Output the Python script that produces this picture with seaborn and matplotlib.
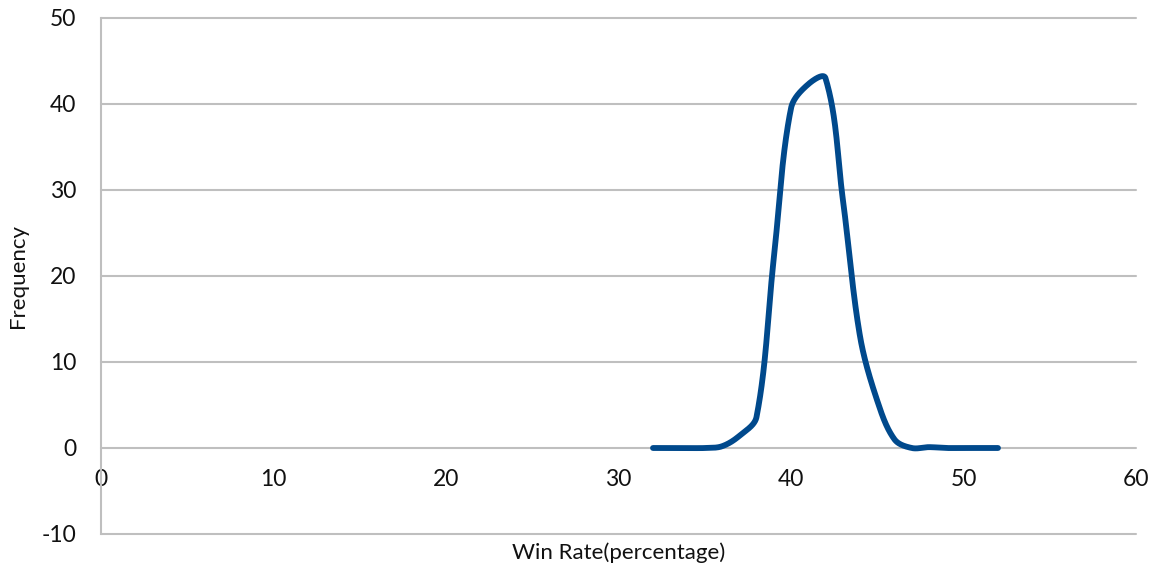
import numpy as np
import pandas as pd
import matplotlib
matplotlib.use("Agg")
import matplotlib.pyplot as plt
import seaborn as sns

# Frequency of each win rate (percentage)
win_rate = [32, 33, 34, 35, 36, 37, 38, 39, 40, 41, 42, 43, 44, 45, 46, 47, 48, 49, 50, 51, 52]
frequency = [0, 0, 0, 0, 0.2, 1.4, 3.6, 22, 39.5, 42.3, 43, 29, 13, 5.5, 1, 0, 0.1, 0, 0, 0, 0]

x_ticks = [0, 10, 20, 30, 40, 50, 60]
y_ticks = [-10, 0, 10, 20, 30, 40, 50]

# axes placement in figure pixels
FIG_W, FIG_H = 1159, 576
AX_L, AX_R, AX_T, AX_B = 101, 1136, 18, 534
X_RANGE, Y_RANGE = (0, 60), (-10, 50)


def smooth_line(xs, ys, sx, sy, steps=60, tension=0.5):
    """Bezier curve through the points with tangents scaled by the adjacent
    segment lengths (measured on screen), like a spreadsheet's smoothed line."""
    p = np.column_stack([np.asarray(xs, float) * sx, np.asarray(ys, float) * sy])
    n = len(p)
    dirs = np.zeros_like(p)
    for i in range(n):
        a = p[max(i - 1, 0)]
        b = p[min(i + 1, n - 1)]
        d = b - a
        dirs[i] = d / np.hypot(*d)
    pts = []
    t = np.linspace(0, 1, steps, endpoint=False)[:, None]
    for i in range(n - 1):
        p0, p3 = p[i], p[i + 1]
        seg = np.hypot(*(p3 - p0))
        c1 = p0 + dirs[i] * seg * tension * 2 / 3
        c2 = p3 - dirs[i + 1] * seg * tension * 2 / 3
        pts.append((1 - t) ** 3 * p0 + 3 * (1 - t) ** 2 * t * c1
                   + 3 * (1 - t) * t ** 2 * c2 + t ** 3 * p3)
    pts.append(p[-1:])
    pts = np.vstack(pts)
    return pts[:, 0] / sx, pts[:, 1] / sy


sx = (AX_R - AX_L) / (X_RANGE[1] - X_RANGE[0])
sy = (AX_B - AX_T) / (Y_RANGE[1] - Y_RANGE[0])
cx, cy = smooth_line(win_rate, frequency, sx, sy)
curve = pd.DataFrame({"Win Rate": cx, "Frequency": cy})

sns.set_theme(style="white")
plt.rcParams["font.family"] = ["Lato", "DejaVu Sans"]

fig = plt.figure(figsize=(FIG_W / 100, FIG_H / 100), dpi=100)
ax = fig.add_axes([AX_L / FIG_W, (FIG_H - AX_B) / FIG_H,
                   (AX_R - AX_L) / FIG_W, (AX_B - AX_T) / FIG_H])

grid_color = "#bfbfbf"
for yv in y_ticks:
    ax.axhline(yv, color=grid_color, lw=1.5, zorder=1, clip_on=False)

sns.lineplot(data=curve, x="Win Rate", y="Frequency", sort=False, ax=ax,
             color="#00498c", lw=4.2, zorder=3, solid_capstyle="round")

ax.set_xlim(*X_RANGE)
ax.set_ylim(*Y_RANGE)

for side in ["top", "right"]:
    ax.spines[side].set_visible(False)
ax.spines["left"].set_color(grid_color)
ax.spines["left"].set_linewidth(1.5)
ax.spines["bottom"].set_position(("data", 0))
ax.spines["bottom"].set_visible(False)

ax.set_xticks(x_ticks)
ax.set_yticks(y_ticks)
ax.set_xticklabels([str(v) for v in x_ticks])
ax.set_yticklabels([str(v) for v in y_ticks])
ax.tick_params(axis="both", labelsize=16.5, labelcolor="#111111", length=0)
ax.tick_params(axis="x", pad=15)
ax.tick_params(axis="y", pad=18)

ax.set_xlabel("Win Rate(percentage)", fontsize=16, color="#111111")
ax.set_ylabel("Frequency", fontsize=16, color="#111111")
ax.xaxis.set_label_coords(0.5, -8 / (AX_B - AX_T))
ax.yaxis.set_label_coords(-(AX_L - 28) / (AX_R - AX_L), 0.5)

fig.savefig("out.png", dpi=100)
